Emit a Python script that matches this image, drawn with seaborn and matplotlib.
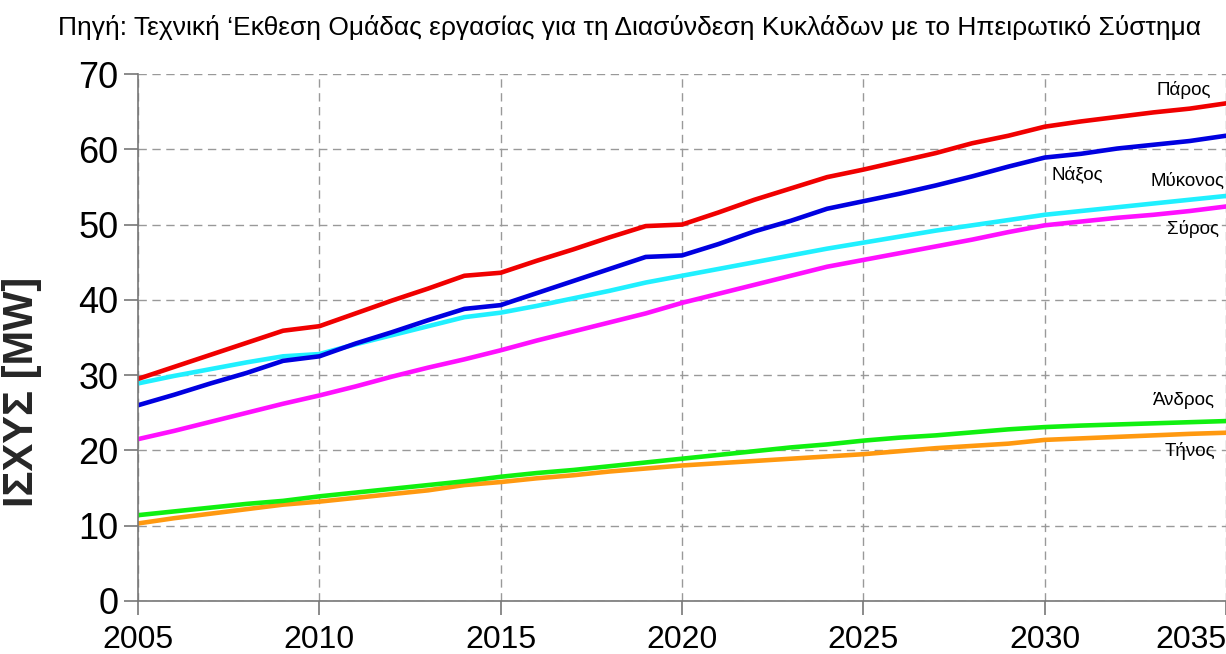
import numpy as np
import pandas as pd
import matplotlib
matplotlib.use("Agg")
import matplotlib.pyplot as plt
import seaborn as sns

years = list(range(2005, 2036))
paros = [29.5, 31.1, 32.7, 34.3, 35.9, 36.5, 38.2, 39.9, 41.5, 43.2, 43.6, 45.2, 46.7, 48.3, 49.8, 50.0,
         51.6, 53.3, 54.8, 56.3, 57.3, 58.4, 59.5, 60.8, 61.8, 63.0, 63.7, 64.3, 64.9, 65.4, 66.1]
naxos = [26.0, 27.4, 28.9, 30.3, 31.9, 32.5, 34.2, 35.7, 37.3, 38.8, 39.3, 40.9, 42.5, 44.1, 45.7, 45.9,
         47.4, 49.1, 50.5, 52.1, 53.1, 54.1, 55.2, 56.4, 57.7, 58.9, 59.4, 60.1, 60.6, 61.1, 61.8]
mykonos = [28.9, 29.9, 30.8, 31.7, 32.5, 32.8, 34.1, 35.3, 36.5, 37.7, 38.3, 39.2, 40.2, 41.2, 42.3, 43.2,
           44.1, 45.0, 45.9, 46.8, 47.6, 48.4, 49.2, 49.9, 50.6, 51.3, 51.8, 52.3, 52.8, 53.3, 53.8]
syros = [21.5, 22.6, 23.8, 25.0, 26.2, 27.3, 28.5, 29.8, 31.0, 32.1, 33.3, 34.6, 35.8, 37.0, 38.2, 39.6,
         40.8, 42.0, 43.2, 44.4, 45.3, 46.2, 47.1, 48.0, 49.0, 49.9, 50.4, 50.9, 51.3, 51.8, 52.4]
andros = [11.4, 11.9, 12.4, 12.9, 13.3, 13.9, 14.4, 14.9, 15.4, 15.9, 16.5, 17.0, 17.4, 17.9, 18.4, 18.9,
          19.4, 19.9, 20.4, 20.8, 21.3, 21.7, 22.0, 22.4, 22.8, 23.1, 23.3, 23.45, 23.6, 23.75, 23.9]
tinos = [10.3, 11.0, 11.6, 12.2, 12.8, 13.2, 13.7, 14.2, 14.7, 15.4, 15.8, 16.3, 16.7, 17.2, 17.6, 18.0,
         18.3, 18.6, 18.9, 19.2, 19.5, 19.9, 20.3, 20.6, 20.9, 21.4, 21.6, 21.8, 22.0, 22.2, 22.35]

names = ["Τήνος", "Άνδρος", "Σύρος", "Μύκονος", "Νάξος", "Πάρος"]
series = [tinos, andros, syros, mykonos, naxos, paros]
colors = ["#FF9910", "#10F010", "#FF10FF", "#20F0FF", "#0000E0", "#F00000"]

x_ticks = [2005, 2010, 2015, 2020, 2025, 2030, 2035]
y_ticks = [0, 10, 20, 30, 40, 50, 60, 70]

title_text = "Πηγή: Τεχνική ‘Εκθεση Ομάδας εργασίας για τη Διασύνδεση Κυκλάδων με το Ηπειρωτικό Σύστημα"
ylabel_text = "ΙΣΧΥΣ [MW]"

# label positions (year, value) and alignment
label_pos = {
    "Πάρος": (2034.6, 67.9, "right"),
    "Νάξος": (2030.2, 56.7, "left"),
    "Μύκονος": (2034.95, 55.8, "right"),
    "Σύρος": (2034.8, 49.4, "right"),
    "Άνδρος": (2034.7, 26.6, "right"),
    "Τήνος": (2034.7, 19.9, "right"),
}

df = pd.DataFrame({
    "year": np.tile(years, len(names)),
    "value": np.concatenate([np.array(s) for s in series]),
    "island": np.repeat(names, len(years)),
})

sns.set_style("white")
plt.rcParams["font.family"] = ["Liberation Sans", "DejaVu Sans"]

fig = plt.figure(figsize=(12.26, 6.54), dpi=100)
ax = fig.add_axes([138 / 1226, 1 - 601 / 654, 1 - 138 / 1226, (601 - 74) / 654])

sns.lineplot(data=df, x="year", y="value", hue="island", hue_order=names,
             palette=dict(zip(names, colors)), linewidth=3.3, ax=ax, legend=False)

ax.set_xlim(2005, 2035)
ax.set_ylim(0, 70)
ax.set_xticks(x_ticks)
ax.set_yticks(y_ticks)
ax.set_xticklabels([str(t) for t in x_ticks])
ax.set_yticklabels([str(t) for t in y_ticks])
ax.get_xticklabels()[-1].set_horizontalalignment("right")

ax.grid(True, linestyle=(0, (6, 4)), color="#999999", linewidth=1)
ax.set_axisbelow(True)
for s in ["top", "right"]:
    ax.spines[s].set_visible(False)
for s in ["left", "bottom"]:
    ax.spines[s].set_color("#777777")
    ax.spines[s].set_linewidth(1.2)

ax.tick_params(axis="both", which="major", direction="out", length=10, width=1.2,
               color="#777777", labelcolor="black", left=True, bottom=True)
ax.tick_params(axis="x", pad=7, labelsize=23)
ax.tick_params(axis="y", pad=4, labelsize=26)

ax.set_xlabel("")
ax.set_ylabel(ylabel_text, fontsize=30, fontweight="bold")
ax.yaxis.set_label_coords(-0.088, 0.397)

for name, (xx, yy, ha) in label_pos.items():
    ax.text(xx, yy, name, fontsize=13.5, ha=ha, va="center", color="black")

fig.text(629 / 1226, 1 - 28 / 654, title_text, fontsize=19, ha="center", va="center", color="black")

fig.savefig("out.png", dpi=100)
